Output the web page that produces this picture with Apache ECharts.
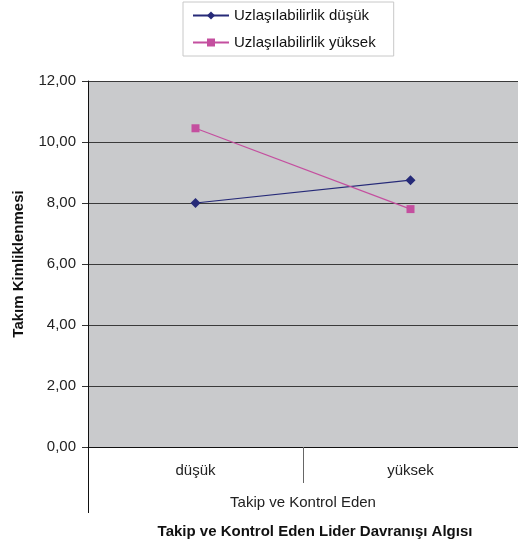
<!DOCTYPE html>
<html>
<head>
<meta charset="utf-8">
<script src="https://cdn.jsdelivr.net/npm/echarts@6/dist/echarts.min.js"></script>
<style>
  html, body { margin: 0; padding: 0; background: #fff; }
  #chart { width: 518px; height: 545px; }
</style>
</head>
<body>
<div id="chart"></div>
<script>
// Categories on the x axis and the group label below them
const categories = ['düşük', 'yüksek'];
const groupLabel = ['Takip ve Kontrol Eden'];

// Series values (Takım Kimliklenmesi)
const seriesLowName = 'Uzlaşılabilirlik düşük';
const seriesLow = [8.00, 8.75];
const seriesHighName = 'Uzlaşılabilirlik yüksek';
const seriesHigh = [10.45, 7.80];

// Y axis range
const yMin = 0, yMax = 12, yStep = 2;

const FONT = 'Liberation Sans, Arial, sans-serif';
const chart = echarts.init(document.getElementById('chart'));

chart.setOption({
  animation: false,
  backgroundColor: '#ffffff',
  textStyle: { fontFamily: FONT },
  title: {
    text: 'Takip ve Kontrol Eden Lider Davranışı Algısı',
    left: 310,
    textAlign: 'center',
    top: 519,
    textStyle: { fontFamily: FONT, fontSize: 15, fontWeight: 'bold', color: '#111' }
  },
  legend: {
    orient: 'vertical',
    left: 183,
    top: 2,
    width: 210,
    itemWidth: 36,
    itemHeight: 10,
    itemGap: 12,
    padding: [6, 18, 6, 9],
    borderColor: '#c8c8c8',
    borderWidth: 1,
    textStyle: { fontFamily: FONT, fontSize: 15, color: '#111' },
    data: [seriesLowName, seriesHighName]
  },
  grid: { left: 88, right: 0, top: 81, bottom: 98, containLabel: false,
          show: true, backgroundColor: '#c9cacc', borderWidth: 0 },
  xAxis: [
    {
      type: 'category',
      data: categories,
      boundaryGap: true,
      axisLine: { show: true, lineStyle: { color: '#111', width: 1 } },
      axisTick: { show: true, length: 36, lineStyle: { color: '#666' } },
      axisLabel: { margin: 16, fontFamily: FONT, fontSize: 15, color: '#222' },
      z: 3
    },
    {
      type: 'category',
      data: groupLabel,
      boundaryGap: true,
      position: 'bottom',
      axisLine: { show: false },
      axisTick: { show: true, length: 66, lineStyle: { color: '#111' } },
      axisLabel: { margin: 48, fontFamily: FONT, fontSize: 15, color: '#222' },
      z: 4
    }
  ],
  yAxis: {
    type: 'value',
    min: yMin,
    max: yMax,
    interval: yStep,
    name: 'Takım Kimliklenmesi',
    nameLocation: 'middle',
    nameGap: 62,
    nameTextStyle: { fontFamily: FONT, fontSize: 15, fontWeight: 'bold', color: '#111' },
    axisLine: { show: true, lineStyle: { color: '#111' } },
    axisTick: { show: true, length: 6, lineStyle: { color: '#333' } },
    axisLabel: {
      margin: 12, fontFamily: FONT, fontSize: 15, color: '#222',
      formatter: v => v.toFixed(2).replace('.', ',')
    },
    splitLine: { show: true, lineStyle: { color: '#3a3a3a', width: 1 } }
  },
  series: [
    {
      name: seriesLowName,
      type: 'line',
      xAxisIndex: 0,
      data: seriesLow,
      symbol: 'diamond',
      symbolSize: 10,
      lineStyle: { color: '#262a78', width: 1.2 },
      itemStyle: { color: '#262a78' },
      z: 5
    },
    {
      name: seriesHighName,
      type: 'line',
      xAxisIndex: 0,
      data: seriesHigh,
      symbol: 'rect',
      symbolSize: 8,
      lineStyle: { color: '#c44f9f', width: 1.2 },
      itemStyle: { color: '#c44f9f' },
      z: 5
    }
  ]
});
</script>
</body>
</html>
